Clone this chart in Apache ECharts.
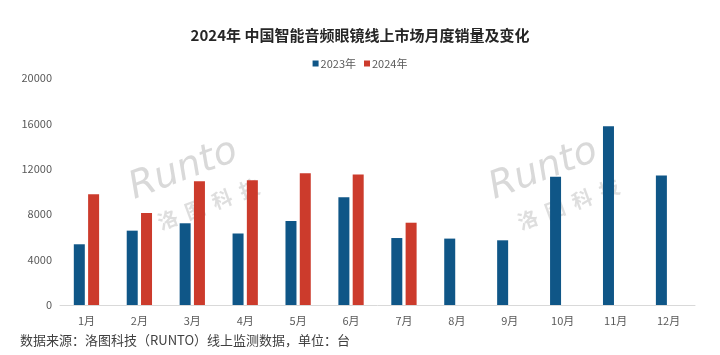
<!DOCTYPE html>
<html><head><meta charset="utf-8">
<script src="https://cdn.jsdelivr.net/npm/echarts@6/dist/echarts.min.js"></script>
<style>html,body{margin:0;padding:0;background:#fff}#c{width:720px;height:355px}</style>
</head><body><div id="c"></div>
<script>
const categories = ['1月','2月','3月','4月','5月','6月','7月','8月','9月','10月','11月','12月'];
const sales2023 = [5350, 6550, 7200, 6300, 7400, 9500, 5900, 5850, 5700, 11300, 15750, 11400];
const sales2024 = [9750, 8100, 10900, 11000, 11600, 11500, 7250, null, null, null, null, null];
const yTicks = [0, 4000, 8000, 12000, 16000, 20000];

const chart = echarts.init(document.getElementById('c'));
const ff = '"Noto Sans CJK SC", "Noto Sans", sans-serif';
function watermark(x, y) {
  return {
    type: 'group', x: x, y: y, rotation: 0.36, z: 10, silent: true,
    children: [
      {type: 'text', x: 0, y: 0, style: {text: 'Runto', fill: 'rgba(160,160,160,0.4)', font: 'italic 38px "DejaVu Sans", sans-serif'}},
      {type: 'text', x: 14, y: 50, style: {text: '洛  图  科  技', fill: 'rgba(160,160,160,0.35)', font: 'bold 20px "Noto Sans CJK SC", sans-serif'}}
    ]
  };
}
chart.setOption({
  animation: false,
  textStyle: {fontFamily: ff},
  title: {
    text: '2024年 中国智能音频眼镜线上市场月度销量及变化',
    left: 'center', top: 23,
    textStyle: {fontSize: 15, fontWeight: 'bold', color: '#262626', fontFamily: ff}
  },
  legend: {
    top: 53, left: 'center', itemWidth: 6, itemHeight: 6, itemGap: 8,
    icon: 'rect',
    textStyle: {fontSize: 11, color: '#595959', padding: [0, 0, 0, -3]},
    data: ['2023年', '2024年']
  },
  grid: {left: 60, right: 25, top: 78, bottom: 50, containLabel: false},
  xAxis: {
    type: 'category', data: categories,
    axisLine: {lineStyle: {color: '#d9d9d9'}},
    axisTick: {show: false},
    axisLabel: {color: '#595959', fontSize: 11, margin: 10}
  },
  yAxis: {
    type: 'value', min: yTicks[0], max: yTicks[yTicks.length - 1], interval: 4000,
    splitLine: {show: false},
    axisLine: {show: false}, axisTick: {show: false},
    axisLabel: {color: '#595959', fontSize: 11, margin: 8, formatter: v => String(v)}
  },
  graphic: [
    watermark(124, 172),
    watermark(484, 172),
    {type: 'text', left: 20, top: 334, style: {text: '数据来源：洛图科技（RUNTO）线上监测数据，单位：台', fill: '#404040', font: '13px "Noto Sans CJK SC", sans-serif'}}
  ],
  series: [
    {name: '2023年', type: 'bar', data: sales2023, barWidth: 11, barGap: '30%', itemStyle: {color: '#0F5687'}},
    {name: '2024年', type: 'bar', data: sales2024, barWidth: 11, barGap: '30%', itemStyle: {color: '#CC3B2C'}}
  ]
});
</script></body></html>
